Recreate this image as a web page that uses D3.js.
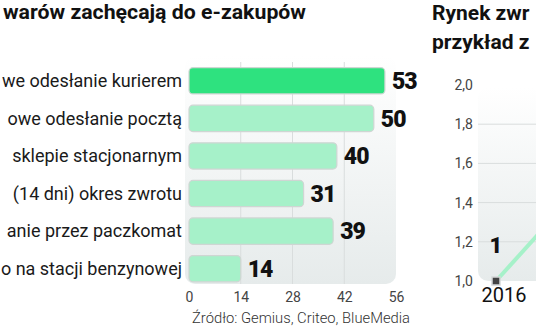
<!DOCTYPE html>
<html>
<head>
<meta charset="utf-8">
<script src="https://cdn.jsdelivr.net/npm/d3@7"></script>
<style>
  html, body { margin: 0; padding: 0; background: #fff; }
  svg { display: block; }
</style>
</head>
<body>
<svg id="chart" width="536" height="332"></svg>
<script>
// Bar chart: return options that encourage online shopping
const categories = [
  "we odesłanie kurierem",
  "owe odesłanie pocztą",
  "sklepie stacjonarnym",
  "(14 dni) okres zwrotu",
  "anie przez paczkomat",
  "o na stacji benzynowej"
];
const shares = [53, 50, 40, 31, 39, 14];
const barTicks = [0, 14, 28, 42, 56];

// Line chart: returns market
const years = [2016, 2017];
const marketValues = [1, 1.4];
const marketTicks = [1.0, 1.2, 1.4, 1.6, 1.8, 2.0];

const svg = d3.select("#chart");
const defs = svg.append("defs");
const grad = defs.append("linearGradient")
  .attr("id", "panelGrad").attr("x1", 0).attr("y1", 0).attr("x2", 0).attr("y2", 1);
grad.append("stop").attr("offset", "0%").attr("stop-color", "#ffffff");
grad.append("stop").attr("offset", "100%").attr("stop-color", "#e6ebeb");

const sans = "Roboto, 'Open Sans', sans-serif";
const fmt = d3.format(".1f");

// ---------- left: horizontal bars ----------
const x = d3.scaleLinear().domain([0, 56]).range([189, 396]);
const y = d3.scaleBand().domain(categories).range([62, 287.5]).paddingInner(0.3).paddingOuter(0.15);

svg.append("text")
  .attr("x", 3).attr("y", 19)
  .attr("font-family", sans)
  .attr("font-weight", 700).attr("font-size", 20)
  .attr("fill", "#111")
  .attr("textLength", 303).attr("lengthAdjust", "spacingAndGlyphs")
  .text("warów zachęcają do e-zakupów");

svg.append("rect")
  .attr("x", 185).attr("y", 56)
  .attr("width", 211).attr("height", 228)
  .attr("rx", 10)
  .attr("fill", "url(#panelGrad)");

svg.append("g").selectAll("line")
  .data(barTicks.slice(1, -1))
  .join("line")
  .attr("x1", d => x(d)).attr("x2", d => x(d))
  .attr("y1", 62).attr("y2", 284)
  .attr("stroke", "#d9dddd").attr("stroke-width", 1);

svg.append("g").selectAll("rect")
  .data(shares)
  .join("rect")
  .attr("x", x(0))
  .attr("y", (d, i) => y(categories[i]))
  .attr("width", d => x(d) - x(0))
  .attr("height", y.bandwidth())
  .attr("rx", 4)
  .attr("fill", (d, i) => i === 0 ? "#2ee27f" : "#a6f1c9")
  .attr("stroke", "#cfd6d3").attr("stroke-width", 1.2);

svg.append("g").selectAll("text")
  .data(categories)
  .join("text")
  .attr("x", 182)
  .attr("y", d => y(d) + y.bandwidth() / 2)
  .attr("dy", "0.35em")
  .attr("text-anchor", "end")
  .attr("font-family", sans).attr("font-size", 18)
  .attr("fill", "#1a1a1a")
  .text(d => d);

svg.append("g").selectAll("text")
  .data(shares)
  .join("text")
  .attr("x", d => x(d) + 7)
  .attr("y", (d, i) => y(categories[i]) + y.bandwidth() / 2)
  .attr("dy", "0.36em")
  .attr("font-family", sans).attr("font-weight", 900).attr("font-size", 23)
  .attr("letter-spacing", -1)
  .attr("fill", "#111")
  .text(d => d);

const xAxis = svg.append("g")
  .attr("transform", "translate(0,302)")
  .call(d3.axisBottom(x).tickValues(barTicks).tickSize(0).tickPadding(0));
xAxis.select(".domain").remove();
xAxis.selectAll("text")
  .attr("dy", 0)
  .attr("font-family", sans).attr("font-size", 14).attr("fill", "#444");

svg.append("text")
  .attr("x", 192).attr("y", 323)
  .attr("font-family", sans).attr("font-size", 15).attr("font-weight", 300)
  .attr("fill", "#333")
  .attr("textLength", 218).attr("lengthAdjust", "spacingAndGlyphs")
  .text("Źródło: Gemius, Criteo, BlueMedia");

// ---------- right: returns market line ----------
const ly = d3.scaleLinear().domain([1, 2]).range([281, 85]);
const lx = d3.scaleLinear().domain([2016, 2017]).range([496, 567]);

svg.append("text")
  .attr("font-family", sans)
  .attr("font-weight", 700).attr("font-size", 21)
  .attr("fill", "#111")
  .selectAll("tspan")
  .data(["Rynek zwr", "przykład z"])
  .join("tspan")
  .attr("x", 432)
  .attr("y", (d, i) => 20 + i * 29)
  .text(d => d);

svg.append("rect")
  .attr("x", 478).attr("y", 87)
  .attr("width", 80).attr("height", 194)
  .attr("rx", 10)
  .attr("fill", "url(#panelGrad)");

svg.append("g").selectAll("line")
  .data(marketTicks.filter(t => t > 1 && t < 2))
  .join("line")
  .attr("x1", 478).attr("x2", 536)
  .attr("y1", d => ly(d)).attr("y2", d => ly(d))
  .attr("stroke", "#d9dddd").attr("stroke-width", 1);

const yAxis = svg.append("g")
  .attr("transform", "translate(473,0)")
  .call(d3.axisLeft(ly).tickValues(marketTicks).tickSize(0).tickPadding(0)
    .tickFormat(d => fmt(d).replace(".", ",")));
yAxis.select(".domain").remove();
yAxis.selectAll("text")
  .attr("font-family", sans).attr("font-size", 14).attr("fill", "#444");

const line = d3.line().x((d, i) => lx(years[i])).y(d => ly(d));
svg.append("path")
  .datum(marketValues)
  .attr("d", line)
  .attr("fill", "none")
  .attr("stroke", "#a6f1c9").attr("stroke-width", 4);

svg.append("rect")
  .attr("x", lx(years[0]) - 4).attr("y", ly(marketValues[0]) - 4)
  .attr("width", 8).attr("height", 8)
  .attr("fill", "#444").attr("stroke", "#d5d8d8").attr("stroke-width", 1.5);

svg.append("text")
  .attr("x", lx(years[0]))
  .attr("y", ly(marketValues[0]) - 28)
  .attr("text-anchor", "middle")
  .attr("font-family", sans).attr("font-weight", 900).attr("font-size", 22)
  .attr("fill", "#111")
  .text(d3.format("d")(marketValues[0]));

svg.append("text")
  .attr("x", lx(years[0]) + 8)
  .attr("y", 302)
  .attr("text-anchor", "middle")
  .attr("font-family", sans).attr("font-size", 20)
  .attr("fill", "#111")
  .text(years[0]);
</script>
</body>
</html>
